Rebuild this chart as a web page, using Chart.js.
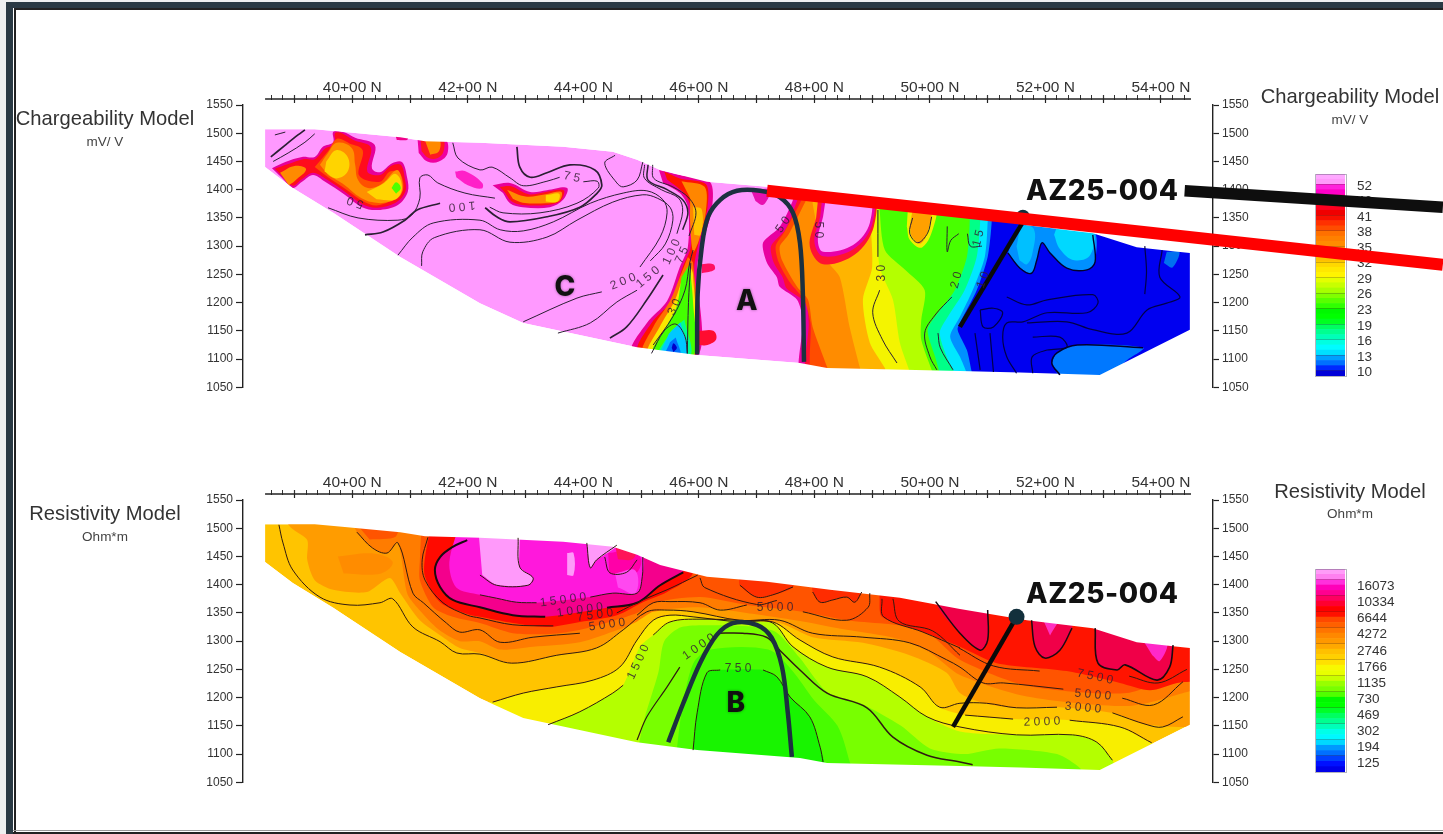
<!DOCTYPE html>
<html>
<head>
<meta charset="utf-8">
<title>Chargeability and Resistivity Models</title>
<script src="https://cdn.jsdelivr.net/npm/chart.js@4"></script>
<style>
    html, body { margin: 0; padding: 0; background: #fff; overflow: hidden; }
    #stage { position: absolute; left: 0; top: 0; width: 1443px; height: 834px; overflow: hidden; background: #fff; filter: blur(0.45px); }
    #stage canvas { position: absolute; }
    .edge { position: absolute; }
    .title { position: absolute; transform: translate(-50%, -50%); font: 20.2px "Liberation Sans", sans-serif; color: #333; white-space: nowrap; }
    .unit { position: absolute; transform: translate(-50%, -50%); font: 13.5px "Liberation Sans", sans-serif; color: #444; white-space: nowrap; }
    .hole { position: absolute; transform: translateY(-50%); font: 800 28px Inter, sans-serif; letter-spacing: 0.6px; color: #111; white-space: nowrap; }
</style>
</head>
<body>
<div id="stage">
    <div class="edge" style="left:0;top:0;width:6px;height:834px;background:#eef0f0"></div>
    <div class="edge" style="left:0;top:0;width:1443px;height:2px;background:#eef0f0"></div>
    <div class="edge" style="left:6px;top:2px;width:7px;height:832px;background:#2a3a44"></div>
    <div class="edge" style="left:6px;top:2px;width:1437px;height:6px;background:#2a3a44"></div>
    <div class="edge" style="left:14px;top:8px;width:2px;height:826px;background:#222"></div>
    <div class="edge" style="left:14px;top:8px;width:1429px;height:2px;background:#222"></div>
    <div class="edge" style="left:13px;top:830px;width:1430px;height:1px;background:#999"></div>
    <div class="edge" style="left:13px;top:832px;width:1430px;height:2px;background:#222"></div>

    <canvas id="chgScale" width="127" height="202" style="left:1316px;top:174px"></canvas>
    <canvas id="resScale" width="127" height="203" style="left:1316px;top:569px"></canvas>
    <div class="edge" style="left:1315px;top:174px;width:30px;height:201px;border:1px solid rgba(90,90,110,0.45)"></div>
    <div class="edge" style="left:1315px;top:569px;width:30px;height:202px;border:1px solid rgba(90,90,110,0.45)"></div>
    <canvas id="resChart" width="1443" height="440" style="left:0;top:395px"></canvas>
    <canvas id="chgChart" width="1443" height="440" style="left:0;top:0"></canvas>

    <div class="title" style="left:105px;top:118px">Chargeability Model</div>
    <div class="unit" style="left:105px;top:141px">mV/ V</div>
    <div class="title" style="left:1350px;top:96px">Chargeability Model</div>
    <div class="unit" style="left:1350px;top:119px">mV/ V</div>
    <div class="title" style="left:105px;top:513px">Resistivity Model</div>
    <div class="unit" style="left:105px;top:536px">Ohm*m</div>
    <div class="title" style="left:1350px;top:491px">Resistivity Model</div>
    <div class="unit" style="left:1350px;top:513px">Ohm*m</div>
    <div class="hole" style="left:1026px;top:190px">AZ25-004</div>
    <div class="hole" style="left:1026px;top:593px">AZ25-004</div>
</div>

<script>
// axes
const stationMin = 3810.8;
const stationMax = 5490.1;
const elevationMin = 1050;
const elevationMax = 1550;
const majorStations = [3900,4000,4100,4200,4300,4400,4500,4600,4700,4800,4900,5000,5100,5200,5300,5400];
const majorLabels = ['','40+00 N','','42+00 N','','44+00 N','','46+00 N','','48+00 N','','50+00 N','','52+00 N','','54+00 N'];

// colour keys
const chgBinLabels = ['','','52','','','46','','','41','','','38','','','35','','','32','','','29','','','26','','','23','','','19','','','16','','','13','','','10'];
const chgBinColors = ['#ffa8ff','#ff99fa','#ff20dc','#ff00c8','#ff0098','#ff0060','#ff0020','#f00000','#f81000','#ff3000','#ff4c00','#ff7000','#ff8000','#ff8c00','#ff9c00','#ffac00','#ffc000','#ffd800','#ffe800','#fff400','#e4ff00','#c8ff00','#a8ff00','#80ff00','#58ff00','#30ff00','#00f800','#00ff00','#00ff20','#00ff60','#00ff90','#00ffb8','#00ffe0','#00fcff','#00e0ff','#00a0ff','#0070ff','#0028ff','#0000d8'];
const resBinLabels = ['','','','16073','','','10334','','','6644','','','4272','','','2746','','','1766','','','1135','','','730','','','469','','','302','','','194','','','125',''];
const resBinColors = ['#ff9cf8','#ff80f0','#ff30dc','#ff00b8','#ff0090','#ff0060','#ff0030','#ff0000','#ff1000','#ff4800','#ff6000','#ff7400','#ff8800','#ff9800','#ffa800','#ffc000','#ffd000','#ffe000','#f8f800','#e8ff00','#c8ff00','#98ff00','#78ff00','#50ff00','#00f800','#00ff00','#00ff28','#00ff60','#00ff90','#00ffb8','#00ffe8','#00f8ff','#00d8ff','#0098ff','#0070ff','#0040ff','#0010ff','#0000e8'];

// surveyed section limits [station, elevation]
const sectionTop = [[3849,1507],[3935,1507],[3987,1502],[4083,1493],[4126,1486],[4221,1483],[4365,1476],[4451,1467],[4493,1453],[4533,1435],[4614,1414],[4718,1405],[4827,1391],[4948,1377],[5052,1357],[5168,1337],[5282,1323],[5358,1298],[5421,1291],[5450,1288]];
const sectionBottom = [[5450,1152],[5294,1072],[5156,1076],[5052,1079],[4822,1084],[4775,1093],[4597,1107],[4493,1121],[4296,1164],[4221,1199],[4083,1281],[3967,1359],[3897,1403],[3849,1440]];
const fieldEnd = [[5480,1060],[5480,1420]];

// chargeability, bodies left of the survey centre
const chgWestMagenta = [[3861,1438],[3884,1449],[3913,1458],[3935,1458],[3949,1476],[3967,1484],[3967,1502],[3984,1502],[4005,1492],[4039,1479],[4034,1438],[4048,1431],[4069,1447],[4086,1449],[4095,1421],[4096,1396],[4079,1373],[4044,1364],[4017,1369],[3987,1391],[3953,1414],[3932,1426],[3913,1414],[3897,1403],[3878,1421]];
const chgWestRed = [[3866,1437],[3888,1445],[3915,1454],[3935,1454],[3953,1473],[3970,1481],[3970,1500],[3982,1500],[4002,1488],[4032,1475],[4026,1432],[4048,1426],[4067,1442],[4084,1444],[4091,1419],[4092,1397],[4075,1377],[4043,1368],[4018,1374],[3989,1395],[3956,1418],[3932,1430],[3912,1418],[3897,1407],[3880,1423]];
const chgWestDeep = [[3935,1440],[3958,1468],[3973,1490],[3995,1482],[4018,1470],[4012,1425],[4048,1414],[4065,1432],[4082,1430],[4088,1400],[4070,1382],[4042,1372],[4018,1380],[3990,1400],[3958,1422]];
const chgWestOrange = [[3944,1444],[3958,1465],[3973,1483],[3999,1474],[4005,1444],[4010,1417],[4027,1403],[4051,1410],[4077,1435],[4086,1417],[4084,1391],[4062,1378],[4034,1378],[4010,1389],[3987,1408],[3958,1426]];
const chgWestTipOrange = [[3875,1430],[3900,1442],[3920,1436],[3900,1415],[3890,1408]];
const chgWestYellowA = [[3955,1450],[3972,1470],[3992,1458],[3992,1432],[3972,1420],[3952,1432]];
const chgWestYellowB = [[4025,1396],[4055,1412],[4075,1428],[4086,1405],[4075,1383],[4042,1383]];
const chgWestGreen = [[4068,1403],[4076,1413],[4084,1403],[4076,1393]];
const chgKnobMagenta = [[4113,1490],[4160,1490],[4165,1465],[4150,1450],[4130,1450],[4115,1465]];
const chgKnobRed = [[4118,1490],[4156,1490],[4158,1468],[4148,1456],[4132,1456],[4120,1468]];
const chgKnobOrange = [[4125,1490],[4150,1490],[4150,1468],[4135,1462]];
const chgSliver = [[4075,1496],[4096,1494],[4095,1488],[4077,1488]];
const chgSpotMagenta = [[4178,1432],[4195,1433],[4225,1412],[4224,1402],[4200,1408],[4180,1422]];
const chgMidMagenta = [[4243,1408],[4273,1412],[4308,1396],[4337,1399],[4372,1403],[4365,1382],[4342,1369],[4295,1369],[4273,1376],[4261,1394]];
const chgMidRed = [[4255,1405],[4275,1406],[4305,1392],[4335,1396],[4366,1399],[4360,1380],[4338,1373],[4295,1373],[4275,1380],[4265,1394]];
const chgMidOrange = [[4268,1400],[4300,1388],[4335,1392],[4362,1396],[4358,1380],[4335,1376],[4295,1377],[4278,1384]];
const chgMidYellow = [[4335,1390],[4358,1393],[4355,1379],[4335,1379]];

// chargeability, strip west of target A
const chgStripMagenta = [[4531,1435],[4567,1426],[4619,1414],[4623,1369],[4607,1307],[4597,1263],[4598,1105],[4485,1115],[4510,1164],[4545,1203],[4567,1263],[4581,1299],[4581,1369],[4567,1394],[4538,1412]];
const chgStripRed = [[4540,1432],[4567,1420],[4612,1410],[4615,1369],[4600,1307],[4592,1263],[4592,1105],[4495,1115],[4518,1164],[4552,1203],[4572,1263],[4586,1299],[4586,1369],[4574,1394],[4545,1418]];
const chgStripOrange = [[4570,1415],[4610,1405],[4612,1360],[4600,1310],[4590,1290],[4585,1340],[4585,1385]];
const chgStripAmber = [[4590,1370],[4605,1365],[4603,1320],[4592,1320]];
const chgWedgeOrange = [[4581,1281],[4590,1270],[4593,1105],[4503,1110],[4521,1157],[4550,1203],[4567,1245]];
const chgWedgeYellow = [[4585,1265],[4590,1250],[4590,1105],[4512,1110],[4532,1157],[4558,1203],[4572,1245]];
const chgWedgeGreen = [[4584,1268],[4590,1200],[4590,1105],[4520,1110],[4545,1160],[4562,1195],[4570,1245]];
const chgWedgeMint = [[4575,1170],[4585,1105],[4530,1105],[4552,1150]];
const chgWedgeCyan = [[4568,1165],[4580,1120],[4577,1105],[4535,1105],[4548,1145]];
const chgWedgeBlue = [[4560,1138],[4568,1105],[4542,1105],[4550,1130]];
const chgWedgeDeep = [[4553,1120],[4556,1128],[4562,1120],[4556,1112]];
const chgTargetSpotA = [[4605,1268],[4625,1268],[4627,1258],[4605,1252]];
const chgTargetSpotB = [[4600,1150],[4625,1150],[4630,1135],[4615,1125],[4600,1125]];
const chgTargetTongue = [[4690,1400],[4725,1400],[4720,1385],[4710,1373],[4698,1380]];

// chargeability, east field, each list is a class boundary running down the section
const chgEastMagenta = [[4763,1400],[4763,1382],[4740,1334],[4711,1306],[4718,1270],[4735,1245],[4740,1228],[4770,1205],[4780,1169],[4783,1060]];
const chgEastRed = [[4775,1400],[4770,1380],[4750,1330],[4725,1300],[4730,1270],[4745,1245],[4752,1225],[4785,1200],[4790,1165],[4795,1060]];
const chgEastOrangeRed = [[4785,1400],[4775,1376],[4748,1325],[4733,1300],[4738,1272],[4758,1235],[4782,1205],[4793,1165],[4805,1060]];
const chgEastOrange = [[4795,1400],[4783,1376],[4755,1320],[4740,1299],[4744,1275],[4770,1228],[4789,1205],[4797,1157],[4822,1086],[4830,1060]];
const chgEastAmber = [[4805,1400],[4797,1376],[4822,1275],[4844,1245],[4861,1157],[4879,1084],[4885,1060]];
const chgEastYellow = [[4896,1400],[4896,1364],[4900,1263],[4884,1205],[4896,1129],[4922,1084],[4930,1060]];
const chgEastLime = [[4908,1400],[4908,1364],[4913,1263],[4936,1205],[4948,1129],[4966,1075],[4970,1060]];
const chgEastGreen = [[4913,1400],[4913,1364],[4922,1293],[4957,1258],[4991,1222],[4985,1169],[4985,1134],[5005,1075],[5010,1060]];
const chgEastMint = [[5069,1400],[5069,1346],[5064,1281],[5043,1222],[5014,1182],[4996,1152],[5009,1104],[5017,1075],[5020,1060]];
const chgEastCyan = [[5087,1400],[5087,1344],[5081,1281],[5060,1222],[5031,1175],[5017,1147],[5029,1104],[5043,1075],[5045,1060]];
const chgEastSky = [[5100,1400],[5100,1344],[5095,1281],[5074,1222],[5052,1175],[5035,1140],[5052,1104],[5064,1075],[5068,1060]];
const chgEastBlue = [[5107,1400],[5107,1344],[5100,1281],[5081,1222],[5055,1170],[5048,1152],[5064,1116],[5073,1075],[5078,1060]];
const chgEastIslandRed = [[4808,1400],[4899,1400],[4903,1335],[4870,1285],[4815,1268],[4792,1300],[4803,1350]];
const chgEastIslandMagenta = [[4815,1400],[4897,1400],[4900,1338],[4868,1295],[4815,1282],[4800,1308],[4810,1352]];
const chgEastIslandPink = [[4822,1400],[4893,1400],[4896,1341],[4867,1302],[4815,1290],[4806,1311],[4815,1352]];
const chgEastKnobYellow = [[4962,1370],[5008,1370],[5008,1340],[4987,1298],[4966,1310],[4960,1335]];
const chgEastKnobOrange = [[4970,1365],[5000,1365],[5000,1340],[4985,1305],[4970,1315],[4965,1335]];
const chgEastBlobSky = [[5135,1288],[5156,1340],[5190,1340],[5282,1330],[5286,1272],[5272,1258],[5237,1261],[5208,1288],[5194,1306],[5185,1275],[5176,1252],[5156,1261]];
const chgEastBlobCyanA = [[5222,1340],[5280,1330],[5278,1285],[5250,1275],[5225,1295],[5215,1320]];
const chgEastBlobCyanB = [[5150,1300],[5160,1335],[5180,1330],[5178,1290],[5168,1268],[5155,1275]];
const chgEastLobe = [[5211,1093],[5220,1111],[5255,1125],[5369,1120],[5341,1098],[5300,1065],[5225,1065]];
const chgEastPatch = [[5410,1290],[5432,1290],[5420,1262],[5405,1270]];

// chargeability contours
const chgLineA = [[3866,1497],[3884,1502]];
const chgLineB = [[3859,1458],[3884,1479],[3906,1497],[3918,1506]];
const chgLineC = [[3863,1450],[3889,1465],[3918,1484],[3935,1499]];
const chgLineD = [[3958,1368],[4010,1350],[4079,1346],[4103,1355],[4117,1385],[4117,1421],[4131,1426],[4148,1412],[4195,1394],[4247,1385]];
const chgLine100West = [[4022,1320],[4053,1325],[4091,1346],[4112,1364],[4152,1376]];
const chgLine100East = [[4230,1368],[4250,1352],[4273,1343],[4337,1352],[4394,1369],[4424,1394],[4432,1408],[4420,1435],[4377,1444],[4337,1430],[4308,1422],[4290,1440],[4285,1476]];
const chgLine75Upper = [[4174,1483],[4183,1456],[4221,1435],[4242,1440],[4273,1421],[4296,1407],[4337,1415],[4359,1422]];
const chgLine75Lower = [[4400,1414],[4424,1415],[4426,1403],[4389,1376],[4325,1359],[4261,1359],[4238,1369]];
const chgLine150 = [[4079,1284],[4105,1316],[4140,1341],[4221,1346],[4256,1329],[4296,1327],[4348,1343],[4412,1376],[4469,1394],[4510,1398],[4538,1382],[4545,1359],[4533,1316],[4498,1263]];
const chgLine200 = [[4120,1265],[4122,1290],[4142,1315],[4221,1329],[4273,1307],[4337,1316],[4389,1346],[4451,1378],[4503,1391],[4528,1385],[4550,1369],[4555,1346],[4542,1304],[4516,1274]];
const chgLine200Low = [[4296,1166],[4389,1208],[4432,1219]];
const chgLine150Low = [[4356,1146],[4412,1164],[4458,1201],[4493,1222]];
const chgLine100Low = [[4446,1137],[4475,1157],[4510,1205],[4538,1249]];
const chgLineSteepA = [[4512,1444],[4512,1417],[4545,1400],[4572,1382],[4581,1359],[4572,1329]];
const chgLineSteepB = [[4520,1444],[4522,1420],[4555,1405],[4583,1385],[4595,1359],[4583,1318]];
const chgLineSteepC = [[4506,1444],[4506,1420],[4535,1400],[4565,1385],[4572,1362],[4562,1322]];
const chgLineLoop = [[4455,1461],[4437,1447],[4458,1412],[4469,1405],[4493,1417],[4503,1449]];
const chgLineWedge = [[4521,1125],[4555,1175],[4576,1222],[4584,1270],[4590,1293]];
const chgLineWedgeEast = [[4586,1270],[4582,1200],[4580,1110]];
const chgLineWedgeInner = [[4518,1110],[4540,1150],[4560,1162],[4576,1140],[4580,1110]];
const chgLine30Upper = [[4910,1364],[4910,1281]];
const chgLine30Lower = [[4913,1222],[4901,1182],[4918,1134],[4943,1093]];
const chgLineKnob = [[4970,1350],[4965,1323],[4979,1306],[4996,1323],[5003,1352]];
const chgLine20Lower = [[5038,1210],[5009,1178],[4991,1146],[5000,1104],[5012,1081]];
const chgLine20Upper = [[5030,1335],[5030,1290],[5036,1310],[5050,1322]];
const chgLine15 = [[5065,1322],[5070,1300],[5090,1300]];
const chgLine15Lower = [[5014,1146],[5018,1120],[5040,1081]];
const chgColdEdge = [[5135,1288],[5156,1261],[5176,1252],[5185,1275],[5194,1306],[5208,1288],[5237,1261],[5272,1258],[5286,1272],[5282,1320]];
const chgColdB = [[5133,1210],[5168,1196],[5203,1205],[5282,1214],[5291,1199],[5272,1182],[5203,1182],[5161,1166],[5133,1164],[5126,1139],[5133,1104],[5150,1075]];
const chgColdC = [[5168,1164],[5237,1166],[5282,1152],[5341,1146],[5376,1187],[5410,1199],[5433,1210],[5398,1245],[5402,1293]];
const chgColdD = [[5178,1139],[5225,1139],[5237,1121],[5203,1116],[5177,1104],[5178,1075]];
const chgColdE = [[5087,1187],[5110,1190],[5126,1182],[5110,1157],[5092,1157],[5087,1187]];
const chgColdF = [[5078,1146],[5087,1081]];
const chgColdG = [[5104,1146],[5110,1077]];
const chgColdH = [[5372,1300],[5375,1255],[5372,1215]];
const chgColdLobeEdge = [[5225,1072],[5211,1093],[5220,1111],[5255,1125],[5369,1120]];

// target trace, drill hole and overprinted lines on the chargeability panel
const chgTargetA = [[4597,1108],[4598,1217],[4605,1298],[4616,1352],[4637,1382],[4666,1398],[4706,1398],[4740,1387],[4763,1359],[4775,1306],[4780,1217],[4782,1095]];
const chgHole = [[5052,1157],[5161,1343]];
const chgCollar = [[5161,1352]];
const redOverprint = [[4718,1398],[5888,1267]];
const blackOverprint = [[5441,1398],[5888,1369]];

// resistivity, class bodies
const resBandYellow = [[4200,1195],[4243,1192],[4296,1208],[4354,1219],[4417,1231],[4463,1254],[4493,1302],[4521,1337],[4550,1346],[4590,1343],[4671,1334],[4728,1334],[4775,1302],[4832,1272],[4913,1254],[4983,1219],[5017,1183],[5061,1169],[5144,1162],[5242,1160],[5329,1148],[5384,1120],[5480,1100],[5480,1060],[4200,1060]];
const resBandLime = [[4320,1150],[4339,1152],[4394,1175],[4451,1208],[4469,1222],[4498,1290],[4521,1311],[4550,1334],[4602,1339],[4683,1336],[4728,1332],[4763,1290],[4822,1254],[4891,1237],[4948,1201],[4995,1166],[5052,1140],[5150,1134],[5247,1134],[5289,1121],[5316,1089],[5320,1060],[4320,1060]];
const resBandGreenLime = [[4493,1100],[4505,1160],[4530,1245],[4540,1300],[4570,1325],[4640,1328],[4700,1325],[4735,1315],[4775,1270],[4822,1210],[4880,1190],[4950,1150],[5000,1110],[5060,1100],[5120,1110],[5220,1100],[5260,1075],[5265,1060],[4493,1060]];
const resBandHalo = [[4560,1090],[4570,1173],[4590,1260],[4620,1285],[4720,1285],[4760,1250],[4800,1195],[4840,1150],[4860,1090],[4865,1060],[4560,1060]];
const resBandGreen = [[4585,1090],[4590,1107],[4597,1173],[4614,1244],[4637,1249],[4711,1249],[4735,1237],[4758,1201],[4792,1166],[4810,1112],[4815,1075],[4585,1075]];
const resBandOrange = [[3880,1520],[3895,1500],[3922,1479],[3922,1444],[3935,1408],[3967,1391],[4025,1387],[4065,1412],[4083,1385],[4117,1337],[4157,1307],[4186,1288],[4221,1279],[4276,1261],[4354,1275],[4423,1288],[4469,1320],[4510,1352],[4545,1355],[4590,1352],[4671,1337],[4740,1332],[4797,1307],[4884,1297],[4965,1275],[5029,1244],[5052,1208],[5087,1192],[5144,1182],[5220,1183],[5316,1173],[5376,1152],[5480,1160],[5480,1430],[5000,1430],[4600,1470],[4300,1520]];
const resOrangeCore = [[3975,1450],[4040,1455],[4070,1440],[4050,1420],[3985,1420]];
const resBandDeep = [[4000,1520],[4008,1493],[4035,1465],[4060,1456],[4079,1474],[4095,1385],[4112,1360],[4150,1320],[4186,1300],[4221,1300],[4256,1285],[4313,1290],[4394,1298],[4460,1320],[4493,1335],[4521,1352],[4600,1360],[4683,1350],[4780,1335],[4856,1320],[4940,1305],[5000,1280],[5052,1240],[5168,1202],[5341,1185],[5428,1205],[5480,1230],[5480,1430],[5000,1430],[4600,1470],[4300,1520]];
const resBandRedOrange = [[4121,1520],[4117,1444],[4117,1408],[4140,1360],[4174,1343],[4221,1332],[4278,1314],[4348,1313],[4406,1323],[4493,1350],[4521,1368],[4602,1378],[4683,1364],[4780,1352],[4856,1337],[4988,1320],[5052,1267],[5168,1221],[5341,1208],[5428,1244],[5480,1275],[5480,1430],[5000,1430],[4600,1470],[4400,1520]];
const resTopPatch = [[4005,1510],[4077,1510],[4075,1485],[4030,1480]];
const resBandRed = [[4140,1520],[4126,1449],[4126,1414],[4152,1369],[4199,1348],[4221,1343],[4278,1332],[4337,1325],[4394,1334],[4458,1346],[4503,1369],[4545,1387],[4590,1421],[4590,1520]];
const resHotPink = [[4190,1520],[4174,1467],[4152,1449],[4143,1426],[4152,1396],[4174,1373],[4221,1360],[4278,1346],[4334,1343],[4441,1359],[4493,1368],[4533,1399],[4573,1425],[4530,1440],[4440,1480],[4300,1520]];
const resMagenta = [[4190,1520],[4168,1440],[4180,1395],[4221,1382],[4250,1376],[4284,1369],[4319,1368],[4412,1378],[4451,1385],[4493,1385],[4502,1414],[4503,1449],[4460,1480],[4300,1520]];
const resNorthHot = [[4443,1456],[4480,1460],[4500,1445],[4488,1418],[4445,1420]];
const resNorthRed = [[4455,1470],[4490,1462],[4485,1445],[4460,1445]];
const resLightPatch = [[4455,1420],[4490,1425],[4490,1385],[4460,1395]];
const resPinkA = [[4218,1500],[4287,1500],[4290,1431],[4313,1412],[4304,1399],[4250,1399],[4225,1417]];
const resPinkB = [[4406,1500],[4458,1470],[4423,1444],[4412,1430],[4406,1474]];
const resPinkSlit = [[4372,1456],[4383,1456],[4383,1417],[4372,1417]];
const resRedCrestA = [[4671,1420],[4671,1399],[4700,1378],[4728,1382],[4763,1396],[4763,1420]];
const resRedCrestB = [[4797,1410],[4797,1387],[4810,1369],[4832,1373],[4856,1378],[4870,1369],[4882,1387],[4882,1410]];
const resHotEast = [[4913,1420],[4913,1376],[4917,1343],[4988,1316],[5052,1290],[5116,1261],[5237,1247],[5329,1226],[5381,1213],[5428,1226],[5480,1237],[5480,1420]];
const resLobeA = [[5010,1400],[5014,1360],[5052,1314],[5087,1284],[5100,1302],[5100,1400]];
const resLobeB = [[5172,1400],[5176,1337],[5182,1290],[5199,1270],[5225,1284],[5246,1323],[5250,1400]];
const resLobeBTip = [[5195,1340],[5222,1340],[5208,1310]];
const resLobeC = [[5284,1400],[5286,1323],[5291,1261],[5324,1249],[5338,1258],[5393,1231],[5415,1254],[5421,1293],[5425,1400]];
const resLobeCTip = [[5370,1300],[5410,1300],[5398,1265],[5385,1275]];

// resistivity contours
const resLine10000West = [[4199,1479],[4174,1467],[4152,1449],[4143,1426],[4152,1396],[4174,1373],[4221,1360],[4278,1346],[4334,1343]];
const resLine10000East = [[4441,1359],[4493,1368],[4533,1399],[4573,1422]];
const resLine15000West = [[4221,1382],[4250,1376],[4284,1369],[4319,1368]];
const resLine15000East = [[4412,1378],[4451,1385],[4493,1385],[4502,1414],[4503,1449]];
const resLine7500West = [[4131,1484],[4121,1444],[4126,1408],[4157,1368],[4199,1346],[4221,1341],[4278,1329],[4348,1327]];
const resLine7500East = [[4458,1350],[4503,1373],[4545,1391],[4598,1417]];
const resLine5000West = [[4008,1493],[4035,1465],[4060,1456],[4079,1474],[4105,1385],[4123,1368],[4163,1332],[4186,1316],[4221,1320],[4256,1298],[4313,1307],[4394,1314]];
const resLine5000Mid = [[4493,1346],[4521,1368],[4550,1370],[4602,1368],[4637,1355],[4683,1364]];
const resLine5000East = [[4780,1352],[4856,1337],[4893,1360],[4896,1385]];
const resLine3000 = [[3873,1506],[3880,1474],[3897,1426],[3944,1378],[3996,1364],[4048,1368],[4070,1375],[4105,1325],[4152,1299],[4181,1279],[4221,1277],[4276,1261],[4354,1275],[4423,1288],[4469,1320],[4510,1352],[4545,1355],[4590,1352],[4671,1337],[4740,1337],[4797,1314],[4884,1307],[4965,1297],[5029,1267],[5052,1254],[5092,1226],[5127,1226],[5231,1215]];
const resLine3000East = [[5333,1199],[5387,1187],[5438,1228]];
const resLine2000 = [[4243,1192],[4296,1208],[4354,1219],[4417,1231],[4463,1254],[4493,1302],[4521,1337],[4550,1346],[4590,1343],[4671,1334],[4728,1334],[4775,1302],[4832,1272],[4913,1254],[4983,1219],[5017,1183],[5052,1190],[5098,1190],[5150,1182],[5220,1183]];
const resLine2000East = [[5316,1173],[5376,1152],[5403,1148],[5438,1166]];
const resLineLabelled = [[5061,1169],[5144,1162]];
const resLineLabelledEast = [[5242,1160],[5329,1148],[5384,1120]];
const resLine1500West = [[4339,1152],[4394,1175],[4451,1208],[4469,1222]];
const resLine1500East = [[4521,1311],[4550,1334],[4602,1339],[4683,1336],[4728,1332],[4763,1290],[4822,1254],[4891,1237],[4948,1201],[4995,1166],[5052,1148],[5150,1134],[5247,1134],[5289,1121],[5316,1089]];
const resLine1000West = [[4493,1125],[4510,1166],[4545,1219],[4567,1254]];
const resLine1000East = [[4631,1314],[4676,1314],[4717,1307],[4740,1284],[4775,1249],[4822,1208],[4891,1182],[4936,1130],[4995,1098],[5052,1086],[5074,1081]];
const resLine750West = [[4590,1107],[4597,1173],[4614,1244],[4637,1249]];
const resLine750East = [[4711,1249],[4735,1237],[4758,1201],[4792,1166],[4810,1112],[4815,1086]];
const resLinePinkA = [[4287,1483],[4290,1431],[4313,1412],[4304,1399],[4250,1399],[4221,1417]];
const resLinePinkB = [[4406,1474],[4412,1430],[4423,1444],[4458,1470]];
const resLineKnob = [[4437,1449],[4446,1421],[4475,1422],[4493,1444]];
const resLineCrestA = [[4602,1412],[4610,1395],[4700,1365],[4735,1372]];
const resLineCrestB = [[4671,1399],[4700,1378],[4728,1382],[4763,1396]];
const resLineCrestC = [[4797,1387],[4810,1369],[4832,1373],[4856,1378],[4870,1369],[4882,1387]];
const resLineEastA = [[4917,1375],[4920,1343],[4988,1316],[5052,1288]];
const resLineEastB = [[4936,1375],[4947,1335],[5005,1318],[5052,1275]];
const resLineEastC = [[5010,1370],[5052,1314],[5087,1284],[5100,1302],[5100,1355]];
const resLineEastD = [[5176,1337],[5182,1290],[5199,1270],[5225,1284],[5246,1323]];
const resLineEastE = [[5286,1323],[5291,1261],[5324,1249],[5338,1258],[5393,1231],[5415,1254],[5421,1293]];
const resLineEastF = [[5050,1288],[5110,1256],[5190,1247]];
const resLineEastG = [[5345,1238],[5395,1226],[5445,1250]];
const resTargetB = [[4547,1121],[4573,1190],[4602,1261],[4631,1311],[4659,1332],[4700,1329],[4726,1306],[4744,1254],[4754,1173],[4761,1095]];
const resHole = [[5040,1148],[5150,1343]];
const resCollar = [[5150,1343]];

// contour annotations [station, elevation, text, degrees]
const chgNotes = [[4380,1422,'7 5',12],[4190,1371,'1 0 0',175],[4005,1378,'5 0',200],[4469,1237,'2 0 0',-22],[4512,1245,'1 5 0',-40],[4553,1290,'1 0 0',-65],[4571,1284,'7 5',-65],[4558,1192,'3 0',-65],[4746,1338,'5 0',-55],[4806,1329,'5 0',90],[4917,1252,'3 0',-90],[5046,1240,'2 0',-75],[5084,1314,'1 5',-75],[5092,1240,'1 0',-70]];
const resNotes = [[4365,1373,'1 5 0 0 0',-8],[4394,1355,'1 0 0 0 0',-8],[4420,1346,'7 5 0 0',-8],[4441,1329,'5 0 0 0',-8],[4732,1360,'5 0 0 0',0],[4495,1263,'1 5 0 0',-65],[4600,1290,'1 0 0 0',-35],[4668,1251,'7 5 0',0],[5286,1237,'7 5 0 0',12],[5282,1205,'5 0 0 0',5],[5265,1182,'3 0 0 0',5],[5194,1157,'2 0 0 0',-2]];
const chgLetters = [[4368,1226,'C'],[4683,1201,'A']];
const resLetters = [[4664,1190,'B']];

function toPoints(list) {
    return list.map(function (p) { return {x: p[0], y: p[1]}; });
}

function shapeSet(list, colour, tension) {
    return {data: toPoints(list), backgroundColor: colour, fill: 'shape', borderWidth: 0, pointRadius: 0, tension: tension};
}

function lineSet(list, colour, width) {
    return {data: toPoints(list), borderColor: colour, fill: false, borderWidth: width, pointRadius: 0, tension: 0.35, clip: false};
}

function maskSets() {
    const top = sectionTop.concat([[5488,1288],[5488,1550],[3815,1550],[3815,1507]]);
    const bottom = sectionBottom.concat([[3815,1440],[3815,1050],[5488,1050],[5488,1152]]);
    const west = [[3815,1550],[3849,1550],[3849,1050],[3815,1050]];
    const east = [[5450,1550],[5488,1550],[5488,1050],[5450,1050]];
    return [top, bottom, west, east].map(function (m) { return shapeSet(m, '#ffffff', 0); });
}

function minorStations() {
    const list = [];
    for (let s = 3860; s <= 5440; s += 20) list.push({value: s});
    return list;
}

const noteText = {
    id: 'noteText',
    afterDatasetsDraw: function (chart, args, opts) {
        const ctx = chart.ctx;
        const xs = chart.scales.x;
        const ys = chart.scales.y;
        ctx.save();
        ctx.textAlign = 'center';
        ctx.textBaseline = 'middle';
        opts.notes.forEach(function (n) {
            ctx.save();
            ctx.translate(xs.getPixelForValue(n[0]), ys.getPixelForValue(n[1]));
            ctx.rotate(n[3] * Math.PI / 180);
            ctx.font = '12px "Liberation Sans", sans-serif';
            ctx.fillStyle = 'rgba(50,30,50,0.85)';
            ctx.fillText(n[2], 0, 0);
            ctx.restore();
        });
        opts.letters.forEach(function (n) {
            ctx.save();
            ctx.font = '800 28px Inter, sans-serif';
            ctx.fillStyle = '#111';
            ctx.shadowColor = 'rgba(0,0,0,0.4)';
            ctx.shadowBlur = 3;
            ctx.fillText(n[2], xs.getPixelForValue(n[0]), ys.getPixelForValue(n[1]));
            ctx.restore();
        });
        ctx.restore();
    }
};

function elevationText(v) {
    return String(v);
}

function renderSection(id, datasets, notes, letters) {
    datasets.forEach(function (d, i) { d.order = datasets.length - i; });
    const tickFont = {family: '"Liberation Sans", sans-serif', size: 12};
    return new Chart(document.getElementById(id), {
        type: 'line',
        data: {datasets: datasets},
        plugins: [noteText],
        options: {
            responsive: false,
            animation: false,
            events: [],
            layout: {padding: {left: 200, right: 187, top: 105, bottom: 52.7}},
            plugins: {
                legend: {display: false},
                tooltip: {enabled: false},
                noteText: {notes: notes, letters: letters}
            },
            scales: {
                x: {
                    type: 'linear', min: stationMin, max: stationMax, position: {y: 1567.7},
                    afterBuildTicks: function (s) { s.ticks = majorStations.map(function (v) { return {value: v}; }); },
                    border: {display: false},
                    grid: {drawOnChartArea: false, tickLength: 8, tickColor: '#222', tickWidth: 1.2},
                    ticks: {
                        autoSkip: false, maxRotation: 0, padding: -25, color: '#333',
                        font: {family: '"Liberation Sans", sans-serif', size: 15.5},
                        callback: function (v, i) { return majorLabels[i]; }
                    }
                },
                xm: {
                    type: 'linear', axis: 'x', min: stationMin, max: stationMax, position: {y: 1567.4},
                    afterBuildTicks: function (s) { s.ticks = minorStations(); },
                    border: {display: false},
                    grid: {drawOnChartArea: false, tickLength: 5, tickColor: '#333', tickWidth: 1},
                    ticks: {display: false}
                },
                y: {
                    type: 'linear', position: 'left', min: elevationMin, max: elevationMax,
                    afterFit: function (s) { s.width = 43; },
                    border: {color: '#222', width: 1.4},
                    grid: {drawOnChartArea: false, tickLength: 7, tickColor: '#222', tickWidth: 1.2},
                    ticks: {stepSize: 50, padding: 3, color: '#333', font: tickFont, callback: elevationText}
                },
                yr: {
                    type: 'linear', position: 'right', min: elevationMin, max: elevationMax,
                    afterFit: function (s) { s.width = 43; },
                    border: {color: '#222', width: 1.4},
                    grid: {drawOnChartArea: false, tickLength: 6, tickColor: '#222', tickWidth: 1.2},
                    ticks: {stepSize: 50, padding: 3, color: '#333', font: tickFont, callback: elevationText}
                }
            }
        }
    });
}

function renderColourKey(id, labels, colours) {
    return new Chart(document.getElementById(id), {
        type: 'bar',
        data: {
            labels: labels,
            datasets: [{data: labels.map(function () { return 1; }), backgroundColor: colours, barPercentage: 1, categoryPercentage: 1, borderWidth: 0}]
        },
        options: {
            indexAxis: 'y',
            responsive: false,
            animation: false,
            events: [],
            layout: {autoPadding: false},
            plugins: {legend: {display: false}, tooltip: {enabled: false}},
            scales: {
                x: {display: false, min: 0, max: 1},
                y: {
                    position: 'right',
                    afterFit: function (s) { s.width = 98; s.paddingTop = 0; s.paddingBottom = 0; },
                    border: {display: false},
                    grid: {
                        z: 1, drawTicks: false,
                        color: function (c) { return c.index % 3 === 2 ? 'rgba(60,20,20,0.25)' : 'rgba(0,0,0,0)'; }
                    },
                    ticks: {
                        autoSkip: false, padding: 12, labelOffset: -1, color: '#333',
                        font: {family: '"Liberation Sans", sans-serif', size: 13.5}
                    }
                }
            }
        }
    });
}

const axisRule = [[3849,1560.6],[5452,1560.6]];
const thinInk = '#2b1f33';
const coldInk = '#00004a';
const warmInk = '#301a10';
const targetInk = '#1c3040';

const chgSets = [
    shapeSet(sectionTop.concat(sectionBottom), '#ff99ff', 0),
    shapeSet(chgWestMagenta, '#e6009a', 0.35),
    shapeSet(chgWestRed, '#ff0c1c', 0.35),
    shapeSet(chgWestDeep, '#ff5000', 0.35),
    shapeSet(chgWestOrange, '#ff9000', 0.4),
    shapeSet(chgWestTipOrange, '#ff8a00', 0.4),
    shapeSet(chgWestYellowA, '#ffd400', 0.4),
    shapeSet(chgWestYellowB, '#ffd400', 0.4),
    shapeSet(chgWestGreen, '#4cff00', 0.4),
    shapeSet(chgKnobMagenta, '#f000a0', 0.4),
    shapeSet(chgKnobRed, '#ff1a20', 0.4),
    shapeSet(chgKnobOrange, '#ff8a00', 0.4),
    shapeSet(chgSliver, '#f0008a', 0.3),
    shapeSet(chgSpotMagenta, '#ff20c8', 0.4),
    shapeSet(chgMidMagenta, '#e8009a', 0.35),
    shapeSet(chgMidRed, '#ff1414', 0.35),
    shapeSet(chgMidOrange, '#ff8a00', 0.35),
    shapeSet(chgMidYellow, '#ffd800', 0.4),
    shapeSet(chgStripMagenta, '#ea0096', 0.3),
    shapeSet(chgStripRed, '#ff1400', 0.3),
    shapeSet(chgStripOrange, '#ff8600', 0.3),
    shapeSet(chgStripAmber, '#ffc400', 0.4),
    shapeSet(chgWedgeOrange, '#ff7000', 0.3),
    shapeSet(chgWedgeYellow, '#f8e800', 0.3),
    shapeSet(chgWedgeGreen, '#44ff00', 0.3),
    shapeSet(chgWedgeMint, '#00ff90', 0.35),
    shapeSet(chgWedgeCyan, '#00c8ff', 0.35),
    shapeSet(chgWedgeBlue, '#0070ff', 0.35),
    shapeSet(chgWedgeDeep, '#0000c8', 0.35),
    shapeSet(chgTargetSpotA, '#ff1060', 0.4),
    shapeSet(chgTargetSpotB, '#ff0c30', 0.4),
    shapeSet(chgTargetTongue, '#e810b0', 0.4),
    shapeSet(chgEastMagenta.concat(fieldEnd), '#e800a0', 0.25),
    shapeSet(chgEastRed.concat(fieldEnd), '#ff1030', 0.25),
    shapeSet(chgEastOrangeRed.concat(fieldEnd), '#ff4c00', 0.25),
    shapeSet(chgEastOrange.concat(fieldEnd), '#ff8c00', 0.25),
    shapeSet(chgEastAmber.concat(fieldEnd), '#ffb400', 0.25),
    shapeSet(chgEastYellow.concat(fieldEnd), '#f4f400', 0.25),
    shapeSet(chgEastLime.concat(fieldEnd), '#b4ff00', 0.25),
    shapeSet(chgEastGreen.concat(fieldEnd), '#48ff00', 0.25),
    shapeSet(chgEastMint.concat(fieldEnd), '#00ff88', 0.25),
    shapeSet(chgEastCyan.concat(fieldEnd), '#00e8ff', 0.25),
    shapeSet(chgEastSky.concat(fieldEnd), '#0090ff', 0.25),
    shapeSet(chgEastBlue.concat(fieldEnd), '#0000f0', 0.25),
    shapeSet(chgEastIslandRed, '#ff1430', 0.35),
    shapeSet(chgEastIslandMagenta, '#e800a8', 0.35),
    shapeSet(chgEastIslandPink, '#ff99ff', 0.35),
    shapeSet(chgEastKnobYellow, '#f0f000', 0.4),
    shapeSet(chgEastKnobOrange, '#ffa000', 0.4),
    shapeSet(chgEastBlobSky, '#0090ff', 0.3),
    shapeSet(chgEastBlobCyanA, '#00d8ff', 0.4),
    shapeSet(chgEastBlobCyanB, '#00c0ff', 0.4),
    shapeSet(chgEastLobe, '#0078ff', 0.3),
    shapeSet(chgEastPatch, '#0070f0', 0.3)
].concat(maskSets()).concat([
    lineSet(axisRule, '#222', 1.3),
    lineSet(chgLineA, thinInk, 1),
    lineSet(chgLineB, thinInk, 1.7),
    lineSet(chgLineC, thinInk, 1),
    lineSet(chgLineD, thinInk, 1),
    lineSet(chgLine100West, thinInk, 1.7),
    lineSet(chgLine100East, thinInk, 1.7),
    lineSet(chgLine75Upper, thinInk, 1),
    lineSet(chgLine75Lower, thinInk, 1),
    lineSet(chgLine150, thinInk, 1),
    lineSet(chgLine200, thinInk, 1),
    lineSet(chgLine200Low, thinInk, 1),
    lineSet(chgLine150Low, thinInk, 1),
    lineSet(chgLine100Low, thinInk, 1.6),
    lineSet(chgLineSteepA, thinInk, 1.5),
    lineSet(chgLineSteepB, thinInk, 1),
    lineSet(chgLineSteepC, thinInk, 1),
    lineSet(chgLineLoop, thinInk, 1),
    lineSet(chgLineWedge, thinInk, 1),
    lineSet(chgLineWedgeEast, thinInk, 1),
    lineSet(chgLineWedgeInner, thinInk, 1),
    lineSet(chgLine30Upper, thinInk, 1),
    lineSet(chgLine30Lower, thinInk, 1),
    lineSet(chgLineKnob, thinInk, 1),
    lineSet(chgLine20Lower, thinInk, 1),
    lineSet(chgLine20Upper, thinInk, 1),
    lineSet(chgLine15, thinInk, 1),
    lineSet(chgLine15Lower, thinInk, 1),
    lineSet(chgColdEdge, '#000030', 1.4),
    lineSet(chgColdB, coldInk, 1.2),
    lineSet(chgColdC, coldInk, 1.2),
    lineSet(chgColdD, coldInk, 1.2),
    lineSet(chgColdE, coldInk, 1.2),
    lineSet(chgColdF, coldInk, 1.2),
    lineSet(chgColdG, coldInk, 1.2),
    lineSet(chgColdH, coldInk, 1.2),
    lineSet(chgColdLobeEdge, '#000030', 1.6),
    lineSet(chgTargetA, targetInk, 4.5),
    {data: toPoints(chgCollar), pointRadius: 7, pointBackgroundColor: '#12303c', pointBorderWidth: 0, showLine: false, clip: false},
    {data: toPoints(chgHole), borderColor: '#0a0a0a', borderWidth: 4.5, pointRadius: 0, fill: false, clip: false},
    {data: toPoints(redOverprint), borderColor: '#ff0000', borderWidth: 12, pointRadius: 0, fill: false, clip: false},
    {data: toPoints(blackOverprint), borderColor: '#0e0e0e', borderWidth: 11.5, pointRadius: 0, fill: false, clip: false}
]);

const resSets = [
    shapeSet(sectionTop.concat(sectionBottom), '#ffc400', 0),
    shapeSet(resBandYellow, '#f8ee00', 0.25),
    shapeSet(resBandLime, '#b4ff00', 0.25),
    shapeSet(resBandGreenLime, '#78ff00', 0.25),
    shapeSet(resBandHalo, '#48fc00', 0.3),
    shapeSet(resBandGreen, '#18f400', 0.25),
    shapeSet(resBandOrange, '#ff9c00', 0.25),
    shapeSet(resOrangeCore, '#ff8c00', 0.4),
    shapeSet(resBandDeep, '#ff7c00', 0.25),
    shapeSet(resBandRedOrange, '#ff5400', 0.25),
    shapeSet(resTopPatch, '#ff5400', 0.3),
    shapeSet(resBandRed, '#ff0a00', 0.3),
    shapeSet(resHotPink, '#f4008c', 0.3),
    shapeSet(resMagenta, '#ff18dc', 0.3),
    shapeSet(resNorthHot, '#ff00a8', 0.4),
    shapeSet(resNorthRed, '#ff1458', 0.4),
    shapeSet(resLightPatch, '#ff48f0', 0.4),
    shapeSet(resPinkA, '#ff99fa', 0.2),
    shapeSet(resPinkB, '#ff99fa', 0.2),
    shapeSet(resPinkSlit, '#ff99fa', 0.4),
    shapeSet(resRedCrestA, '#ff3000', 0.3),
    shapeSet(resRedCrestB, '#ff2c00', 0.3),
    shapeSet(resHotEast, '#ff1400', 0.25),
    shapeSet(resLobeA, '#f00048', 0.3),
    shapeSet(resLobeB, '#f00048', 0.3),
    shapeSet(resLobeBTip, '#ff30c0', 0.4),
    shapeSet(resLobeC, '#f00048', 0.25),
    shapeSet(resLobeCTip, '#ff28c8', 0.4)
].concat(maskSets()).concat([
    lineSet(axisRule, '#222', 1.3),
    lineSet(resLine10000West, '#1a0a10', 2),
    lineSet(resLine10000East, '#1a0a10', 2),
    lineSet(resLine15000West, warmInk, 1),
    lineSet(resLine15000East, warmInk, 1),
    lineSet(resLine7500West, warmInk, 1),
    lineSet(resLine7500East, warmInk, 1),
    lineSet(resLine5000West, warmInk, 1),
    lineSet(resLine5000Mid, warmInk, 1),
    lineSet(resLine5000East, warmInk, 1),
    lineSet(resLine3000, warmInk, 1),
    lineSet(resLine3000East, warmInk, 1),
    lineSet(resLine2000, warmInk, 1),
    lineSet(resLine2000East, warmInk, 1),
    lineSet(resLineLabelled, warmInk, 1),
    lineSet(resLineLabelledEast, warmInk, 1),
    lineSet(resLine1500West, warmInk, 1),
    lineSet(resLine1500East, warmInk, 1),
    lineSet(resLine1000West, warmInk, 1.2),
    lineSet(resLine1000East, warmInk, 1.5),
    lineSet(resLine750West, warmInk, 1),
    lineSet(resLine750East, warmInk, 1),
    lineSet(resLinePinkA, warmInk, 1),
    lineSet(resLinePinkB, warmInk, 1),
    lineSet(resLineKnob, warmInk, 1),
    lineSet(resLineCrestA, warmInk, 1),
    lineSet(resLineCrestB, warmInk, 1),
    lineSet(resLineCrestC, warmInk, 1),
    lineSet(resLineEastA, warmInk, 1),
    lineSet(resLineEastB, warmInk, 1),
    lineSet(resLineEastC, '#1a0a10', 1.5),
    lineSet(resLineEastD, '#1a0a10', 1.5),
    lineSet(resLineEastE, '#1a0a10', 1.6),
    lineSet(resLineEastF, warmInk, 1),
    lineSet(resLineEastG, warmInk, 1),
    lineSet(resTargetB, targetInk, 4.5),
    {data: toPoints(resHole), borderColor: '#0a0a0a', borderWidth: 4.5, pointRadius: 0, fill: false, clip: false},
    {data: toPoints(resCollar), pointRadius: 8, pointBackgroundColor: '#12303c', pointBorderWidth: 0, showLine: false, clip: false}
]);

renderColourKey('chgScale', chgBinLabels, chgBinColors);
renderColourKey('resScale', resBinLabels, resBinColors);
renderSection('resChart', resSets, resNotes, resLetters);
renderSection('chgChart', chgSets, chgNotes, chgLetters);
</script>
</body>
</html>
